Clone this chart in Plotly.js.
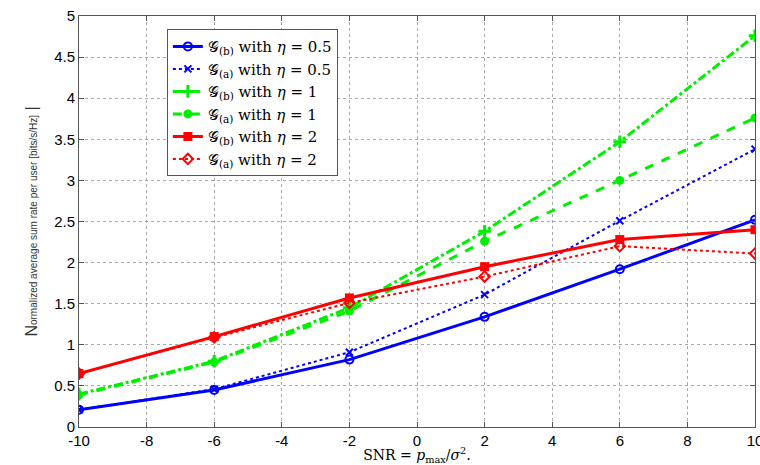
<!DOCTYPE html>
<html><head><meta charset="utf-8">
<script src="https://cdn.plot.ly/plotly-3.0.1.min.js"></script>
<style>body{margin:0;background:#fff}#c{width:760px;height:465px}</style>
</head><body><div id="c"></div>
<script>
const snr = [-10, -6, -2, 2, 6, 10];
const xTicks = [-10, -8, -6, -4, -2, 0, 2, 4, 6, 8, 10];
const xTickText = ["-10", "-8", "-6", "-4", "-2", "0", "2", "4", "6", "8", "10"];
const gb05 = [0.21, 0.45, 0.82, 1.34, 1.92, 2.52];
const ga05 = [0.21, 0.46, 0.91, 1.61, 2.51, 3.38];
const gb1  = [0.40, 0.80, 1.45, 2.38, 3.47, 4.76];
const ga1  = [0.39, 0.79, 1.41, 2.26, 3.00, 3.76];
const gb2  = [0.65, 1.10, 1.57, 1.95, 2.28, 2.40];
const ga2  = [0.65, 1.09, 1.51, 1.83, 2.20, 2.11];
const names = [
 "𝒢<sub>(b)</sub> with <i>η</i> = 0.5",
 "𝒢<sub>(a)</sub> with <i>η</i> = 0.5",
 "𝒢<sub>(b)</sub> with <i>η</i> = 1",
 "𝒢<sub>(a)</sub> with <i>η</i> = 1",
 "𝒢<sub>(b)</sub> with <i>η</i> = 2",
 "𝒢<sub>(a)</sub> with <i>η</i> = 2"
];
const B='#0000ff', G='#00ee00', R='#ff0000';
const traces = [
 {y:gb05, name:names[0], line:{color:B,width:3,dash:'solid'}, marker:{symbol:'circle-open',size:8,color:B,line:{width:2,color:B}}},
 {y:ga05, name:names[1], line:{color:B,width:2,dash:'dot'}, marker:{symbol:'x-thin-open',size:7,color:B,line:{width:2,color:B}}},
 {y:gb1, name:names[2], line:{color:G,width:3,dash:'dashdot'}, marker:{symbol:'cross-thin-open',size:9,color:G,line:{width:3,color:G}}},
 {y:ga1, name:names[3], line:{color:G,width:3,dash:'dash'}, marker:{symbol:'circle',size:9,color:G}},
 {y:gb2, name:names[4], line:{color:R,width:3,dash:'solid'}, marker:{symbol:'square',size:9,color:R}},
 {y:ga2, name:names[5], line:{color:R,width:2,dash:'dot'}, marker:{symbol:'diamond-open',size:8,color:R,line:{width:2,color:R}}}
].map(t=>Object.assign({x:snr, type:'scatter', mode:'lines+markers'}, t));
const layout = {
 width:760, height:465,
 margin:{l:79, r:5, t:16, b:38},
 paper_bgcolor:'#fff', plot_bgcolor:'#fff',
 showlegend:true,
 legend:{x:0.13, y:0.968, xanchor:'left', yanchor:'top', bgcolor:'#fff', bordercolor:'#555', borderwidth:1,
   font:{family:'DejaVu Serif, serif', size:15, color:'#000'}, tracegroupgap:0},
 xaxis:{range:[-10,10], tickmode:'array', tickvals:xTicks, ticktext:xTickText, ticklabeloverflow:'allow',
   showgrid:true, gridcolor:'#aaa', griddash:'dot', gridwidth:1,
   showline:true, linecolor:'#555', linewidth:1, mirror:'ticks', ticks:'inside', ticklen:5, tickcolor:'#555',
   zeroline:false, tickfont:{family:'Liberation Sans, Arial, sans-serif', size:15, color:'#000'},
   title:{text:'SNR = <i>p</i><sub>max</sub>/<i>σ</i><sup>2</sup>.', font:{family:'DejaVu Serif, serif', size:14, color:'#000'}, standoff:2}},
 yaxis:{range:[0,5], dtick:0.5, showgrid:true, gridcolor:'#aaa', griddash:'dot', gridwidth:1,
   showline:true, linecolor:'#555', linewidth:1, mirror:'ticks', ticks:'inside', ticklen:5, tickcolor:'#555',
   zeroline:false, tickfont:{family:'Liberation Sans, Arial, sans-serif', size:15, color:'#000'},
   title:{text:'N<span style="font-size:10px">ormalized average sum rate per user [bits/s/Hz]</span> |', font:{family:'Liberation Sans, Arial, sans-serif', size:16, color:'#333'}, standoff:12}}
};
Plotly.newPlot('c', traces, layout, {displayModeBar:false, staticPlot:true});
</script></body></html>
